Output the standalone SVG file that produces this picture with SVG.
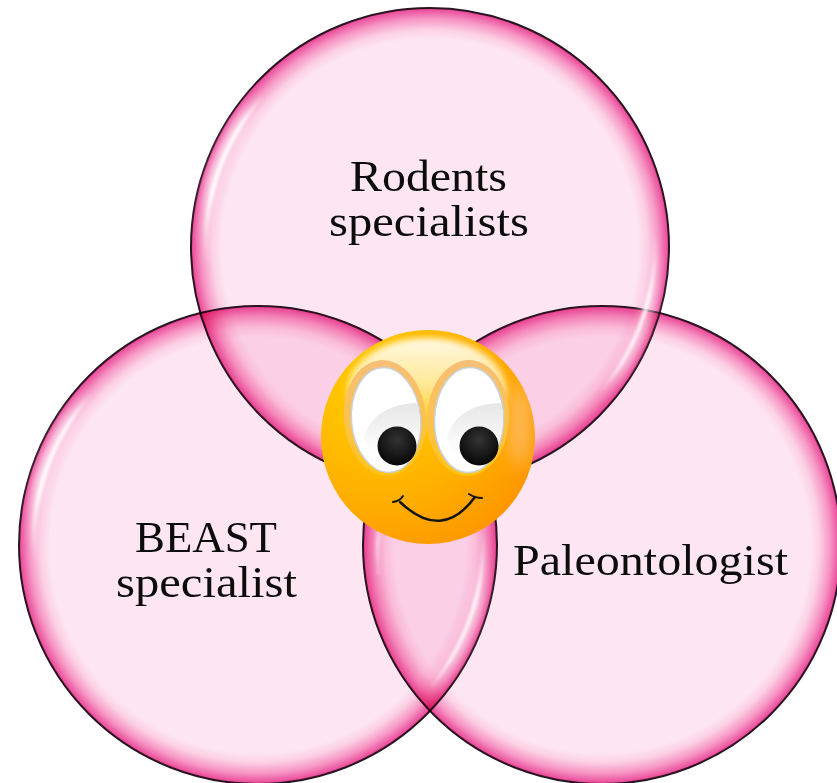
<svg xmlns="http://www.w3.org/2000/svg" width="837" height="783" viewBox="0 0 837 783">
<style>
.lbl{font-family:"Liberation Serif","Times New Roman",serif;font-size:44px;fill:#0c0c0c;text-anchor:start}
.bub{fill:url(#bubble);stroke:#2a1420;stroke-width:2;mix-blend-mode:multiply}
.glowA{fill:none;stroke:url(#gfadeA);stroke-width:14;filter:url(#soft2)}
.glowB{fill:none;stroke:url(#gfadeB);stroke-width:14;filter:url(#soft2)}
.hlA{fill:none;stroke:url(#fadeA);stroke-width:4;filter:url(#soft)}
.hlB{fill:none;stroke:url(#fadeB);stroke-width:3.500;filter:url(#soft)}
.mouth{fill:none;stroke:#141414;stroke-linecap:round}
</style>
<defs>
<radialGradient id="bubble" cx="50%" cy="50%" r="50%">
<stop offset="0" stop-color="#fde6f2"/>
<stop offset="0.87" stop-color="#fde6f2"/>
<stop offset="0.91" stop-color="#fcd0e4"/>
<stop offset="0.955" stop-color="#f696c4"/>
<stop offset="0.99" stop-color="#ec55a0"/>
<stop offset="1" stop-color="#e63a8c"/>
</radialGradient>
<linearGradient id="fadeA" x1="0" y1="1" x2="1" y2="0">
<stop offset="0" stop-color="#fff" stop-opacity="0"/>
<stop offset="0.25" stop-color="#fff" stop-opacity="1"/>
<stop offset="0.7" stop-color="#fff" stop-opacity=".9"/>
<stop offset="1" stop-color="#fff" stop-opacity="0"/>
</linearGradient>
<linearGradient id="fadeB" x1="1" y1="0" x2="0" y2="1">
<stop offset="0" stop-color="#fff" stop-opacity="0"/>
<stop offset="0.25" stop-color="#fff" stop-opacity=".95"/>
<stop offset="0.7" stop-color="#fff" stop-opacity=".85"/>
<stop offset="1" stop-color="#fff" stop-opacity="0"/>
</linearGradient>
<linearGradient id="gfadeA" x1="0" y1="1" x2="1" y2="0">
<stop offset="0" stop-color="#fde6f2" stop-opacity="0"/>
<stop offset="0.3" stop-color="#fde6f2" stop-opacity=".8"/>
<stop offset="0.7" stop-color="#fde6f2" stop-opacity=".7"/>
<stop offset="1" stop-color="#fde6f2" stop-opacity="0"/>
</linearGradient>
<linearGradient id="gfadeB" x1="1" y1="0" x2="0" y2="1">
<stop offset="0" stop-color="#fde6f2" stop-opacity="0"/>
<stop offset="0.3" stop-color="#fde6f2" stop-opacity=".6"/>
<stop offset="0.7" stop-color="#fde6f2" stop-opacity=".5"/>
<stop offset="1" stop-color="#fde6f2" stop-opacity="0"/>
</linearGradient>
<filter id="soft" filterUnits="userSpaceOnUse" x="0" y="0" width="837" height="783"><feGaussianBlur stdDeviation="1.5"/></filter>
<filter id="soft2" filterUnits="userSpaceOnUse" x="0" y="0" width="837" height="783"><feGaussianBlur stdDeviation="4"/></filter>
<filter id="soft3" filterUnits="userSpaceOnUse" x="300" y="320" width="260" height="240"><feGaussianBlur stdDeviation="9"/></filter>
<filter id="soft4" filterUnits="userSpaceOnUse" x="300" y="320" width="260" height="240"><feGaussianBlur stdDeviation="3"/></filter>
<radialGradient id="face" cx="28%" cy="28%" r="85%">
<stop offset="0" stop-color="#ffd000"/>
<stop offset="0.55" stop-color="#ffb300"/>
<stop offset="1" stop-color="#fd9400"/>
</radialGradient>
<linearGradient id="shine" x1="0" y1="0" x2="0" y2="1">
<stop offset="0" stop-color="#fffdf2" stop-opacity=".95"/>
<stop offset="0.45" stop-color="#fff4c4" stop-opacity=".75"/>
<stop offset="1" stop-color="#ffd850" stop-opacity="0"/>
</linearGradient>
<linearGradient id="ring" x1="0" y1="0" x2="0" y2="1">
<stop offset="0" stop-color="#f6bf78"/>
<stop offset="0.6" stop-color="#fbc24a"/>
<stop offset="1" stop-color="#ffc414"/>
</linearGradient>
<linearGradient id="sheen" x1="0" y1="0" x2="0" y2="1">
<stop offset="0" stop-color="#e6e6e6"/>
<stop offset="0.75" stop-color="#ffffff"/>
</linearGradient>
<radialGradient id="pupil" cx="50%" cy="35%" r="65%">
<stop offset="0" stop-color="#333"/>
<stop offset="1" stop-color="#060606"/>
</radialGradient>
<clipPath id="faceClip"><circle cx="428" cy="437" r="107"/></clipPath>
<clipPath id="eyeL"><ellipse cx="386" cy="420" rx="34" ry="52" transform="rotate(-5 386 420)"/></clipPath>
<clipPath id="eyeR"><ellipse cx="469" cy="420" rx="34" ry="52" transform="rotate(2 469 420)"/></clipPath>
</defs>
<rect width="837" height="783" fill="#fff"/>
<g id="circles" style="isolation:isolate">
<g id="node-rodents"><circle class="bub" cx="430" cy="247" r="239"/></g>
<g id="node-beast"><circle class="bub" cx="258" cy="545" r="239"/></g>
<g id="node-paleo"><circle class="bub" cx="602" cy="545" r="239"/></g>
</g>
<g id="highlights">
<path class="glowA" d="M204 262A227 227 0 0 1 262 95"/>
<path class="glowA" d="M32 560A227 227 0 0 1 90 393"/>
<path class="glowB" d="M657 233A227 227 0 0 1 603 393"/>
<path class="glowB" d="M485 531A227 227 0 0 1 431 691"/>
<path class="hlA" d="M206 262A225 225 0 0 1 264 95"/>
<path class="hlA" d="M34 560A225 225 0 0 1 92 393"/>
<path class="hlB" d="M655 233A225 225 0 0 1 601 391"/>
<path class="hlB" d="M483 531A225 225 0 0 1 429 689"/>
<path class="hlA" opacity=".5" d="M377 575A225 225 0 0 1 381 520"/>
</g>
<g id="node-smiley">
<circle cx="428" cy="437" r="107" fill="url(#face)"/>
<g clip-path="url(#faceClip)">
<ellipse cx="520" cy="425" rx="9" ry="42" fill="#ffc890" opacity=".75" filter="url(#soft3)"/>
<ellipse cx="427" cy="392" rx="80" ry="54" fill="url(#shine)" filter="url(#soft4)"/>
</g>
<ellipse cx="385" cy="418" rx="41" ry="58" fill="url(#ring)" transform="rotate(-5 385 418)"/>
<ellipse cx="468" cy="418" rx="41" ry="58" fill="url(#ring)" transform="rotate(2 468 418)"/>
<ellipse cx="386" cy="420" rx="34.500" ry="52.500" fill="#fff" stroke="#c8d2da" stroke-width="1.500" transform="rotate(-5 386 420)"/>
<ellipse cx="469" cy="420" rx="34.500" ry="52.500" fill="#fff" stroke="#c8d2da" stroke-width="1.500" transform="rotate(2 469 420)"/>
<path clip-path="url(#eyeL)" d="M364 438C370 414 392 402 424 403L424 470L380 470Z" fill="url(#sheen)"/>
<path clip-path="url(#eyeR)" d="M447 438C453 414 475 402 507 403L507 470L463 470Z" fill="url(#sheen)"/>
<circle cx="397" cy="446" r="19.500" fill="url(#pupil)"/>
<circle cx="479" cy="446" r="19.500" fill="url(#pupil)"/>
<path class="mouth" stroke-width="2.500" d="M400 502Q442 542 475 497"/>
<path class="mouth" stroke-width="2" d="M393 502Q400 501 403 496"/>
<path class="mouth" stroke-width="2" d="M469 494Q475 498 482 498"/>
</g>
<g id="labels">
<text class="lbl" x="350" y="191" textLength="157" lengthAdjust="spacingAndGlyphs">Rodents</text>
<text class="lbl" x="329" y="236" textLength="200" lengthAdjust="spacingAndGlyphs">specialists</text>
<text class="lbl" x="135" y="551.500" textLength="142" lengthAdjust="spacingAndGlyphs">BEAST</text>
<text class="lbl" x="116" y="596.500" textLength="181" lengthAdjust="spacingAndGlyphs">specialist</text>
<text class="lbl" x="513" y="575" textLength="275" lengthAdjust="spacingAndGlyphs">Paleontologist</text>
</g>
</svg>
